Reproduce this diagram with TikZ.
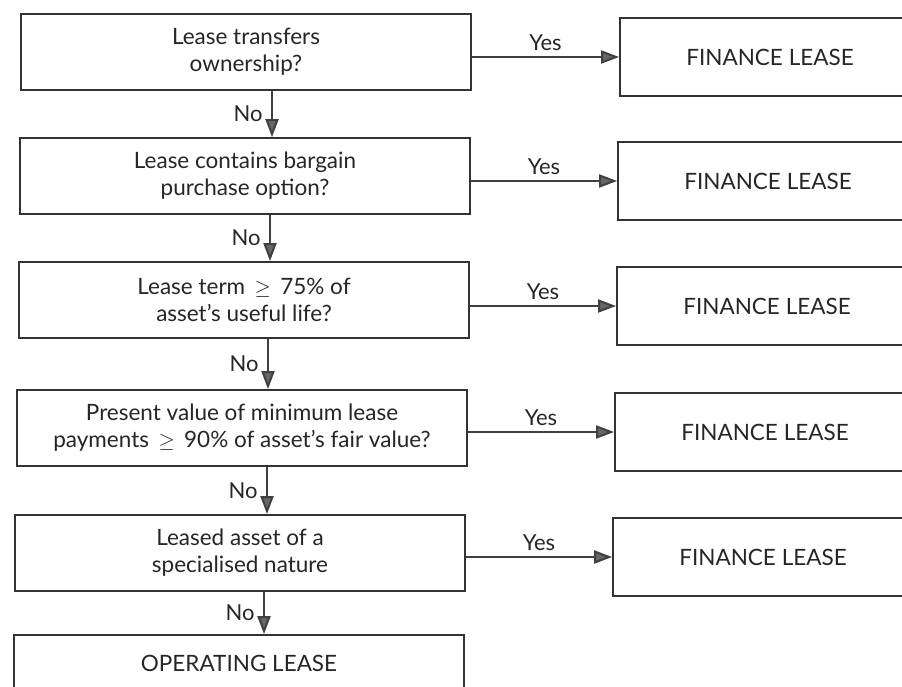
\documentclass[tikz,border=0pt]{standalone}
\usepackage{fontspec}
\setmainfont{Lato}
\usepackage{tikz}
\usetikzlibrary{arrows.meta}

\begin{document}
\begin{tikzpicture}[x=1pt,y=-1pt,
    question/.style={draw=black!80,line width=1.8pt,minimum width=450pt,minimum height=76pt,align=center,
        font=\fontsize{22.5}{27}\selectfont,text=black!85},
    outcome/.style={draw=black!80,line width=1.8pt,minimum width=300pt,minimum height=78pt,
        font=\fontsize{22.5}{27}\selectfont,text=black!85},
    arr/.style={draw=black!75,line width=2pt,-{Triangle[length=18pt,width=13pt,fill=black!60]}},
    lbl/.style={font=\fontsize{22}{26}\selectfont,text=black!85}]
    \useasboundingbox (0,0) rectangle (902,687);
    \clip (0,0) rectangle (902,687);

    % questions down the left
    \node[question] (q1) at (246,52) {Lease transfers\\ownership?};
    \node[question] (q2) at (245,176) {Lease contains bargain\\purchase option?};
    \node[question] (q3) at (244,300) {Lease term \,$\geq$\, 75\% of\\asset's useful life?};
    \node[question] (q4) at (242,428) {Present value of minimum lease\\payments \,$\geq$\, 90\% of asset's fair value?};
    \node[question] (q5) at (240,553) {Leased asset of a\\specialised nature};
    \node[question,minimum height=56pt] (op) at (239,663) {OPERATING LEASE};

    % outcomes on the right
    \node[outcome] (f1) at (770,57) {FINANCE LEASE};
    \node[outcome] (f2) at (768,181) {FINANCE LEASE};
    \node[outcome] (f3) at (767,306) {FINANCE LEASE};
    \node[outcome] (f4) at (765,432) {FINANCE LEASE};
    \node[outcome] (f5) at (763,557) {FINANCE LEASE};

    % no branches
    \draw[arr] ([xshift=26pt]q1.south) -- ([xshift=26pt]q1.south |- q2.north) node[lbl,left=5pt,pos=0.5] {No};
    \draw[arr] ([xshift=25pt]q2.south) -- ([xshift=25pt]q2.south |- q3.north) node[lbl,left=5pt,pos=0.5] {No};
    \draw[arr] ([xshift=24pt]q3.south) -- ([xshift=24pt]q3.south |- q4.north) node[lbl,left=5pt,pos=0.5] {No};
    \draw[arr] ([xshift=25pt]q4.south) -- ([xshift=25pt]q4.south |- q5.north) node[lbl,left=5pt,pos=0.5] {No};
    \draw[arr] ([xshift=24pt]q5.south) -- ([xshift=24pt]q5.south |- op.north) node[lbl,left=5pt,pos=0.5] {No};

    % yes branches
    \draw[arr] (q1.east |- f1) -- (f1.west) node[lbl,above=2pt,midway] {Yes};
    \draw[arr] (q2.east |- f2) -- (f2.west) node[lbl,above=2pt,midway] {Yes};
    \draw[arr] (q3.east |- f3) -- (f3.west) node[lbl,above=2pt,midway] {Yes};
    \draw[arr] (q4.east |- f4) -- (f4.west) node[lbl,above=2pt,midway] {Yes};
    \draw[arr] (q5.east |- f5) -- (f5.west) node[lbl,above=2pt,midway] {Yes};
\end{tikzpicture}
\end{document}
